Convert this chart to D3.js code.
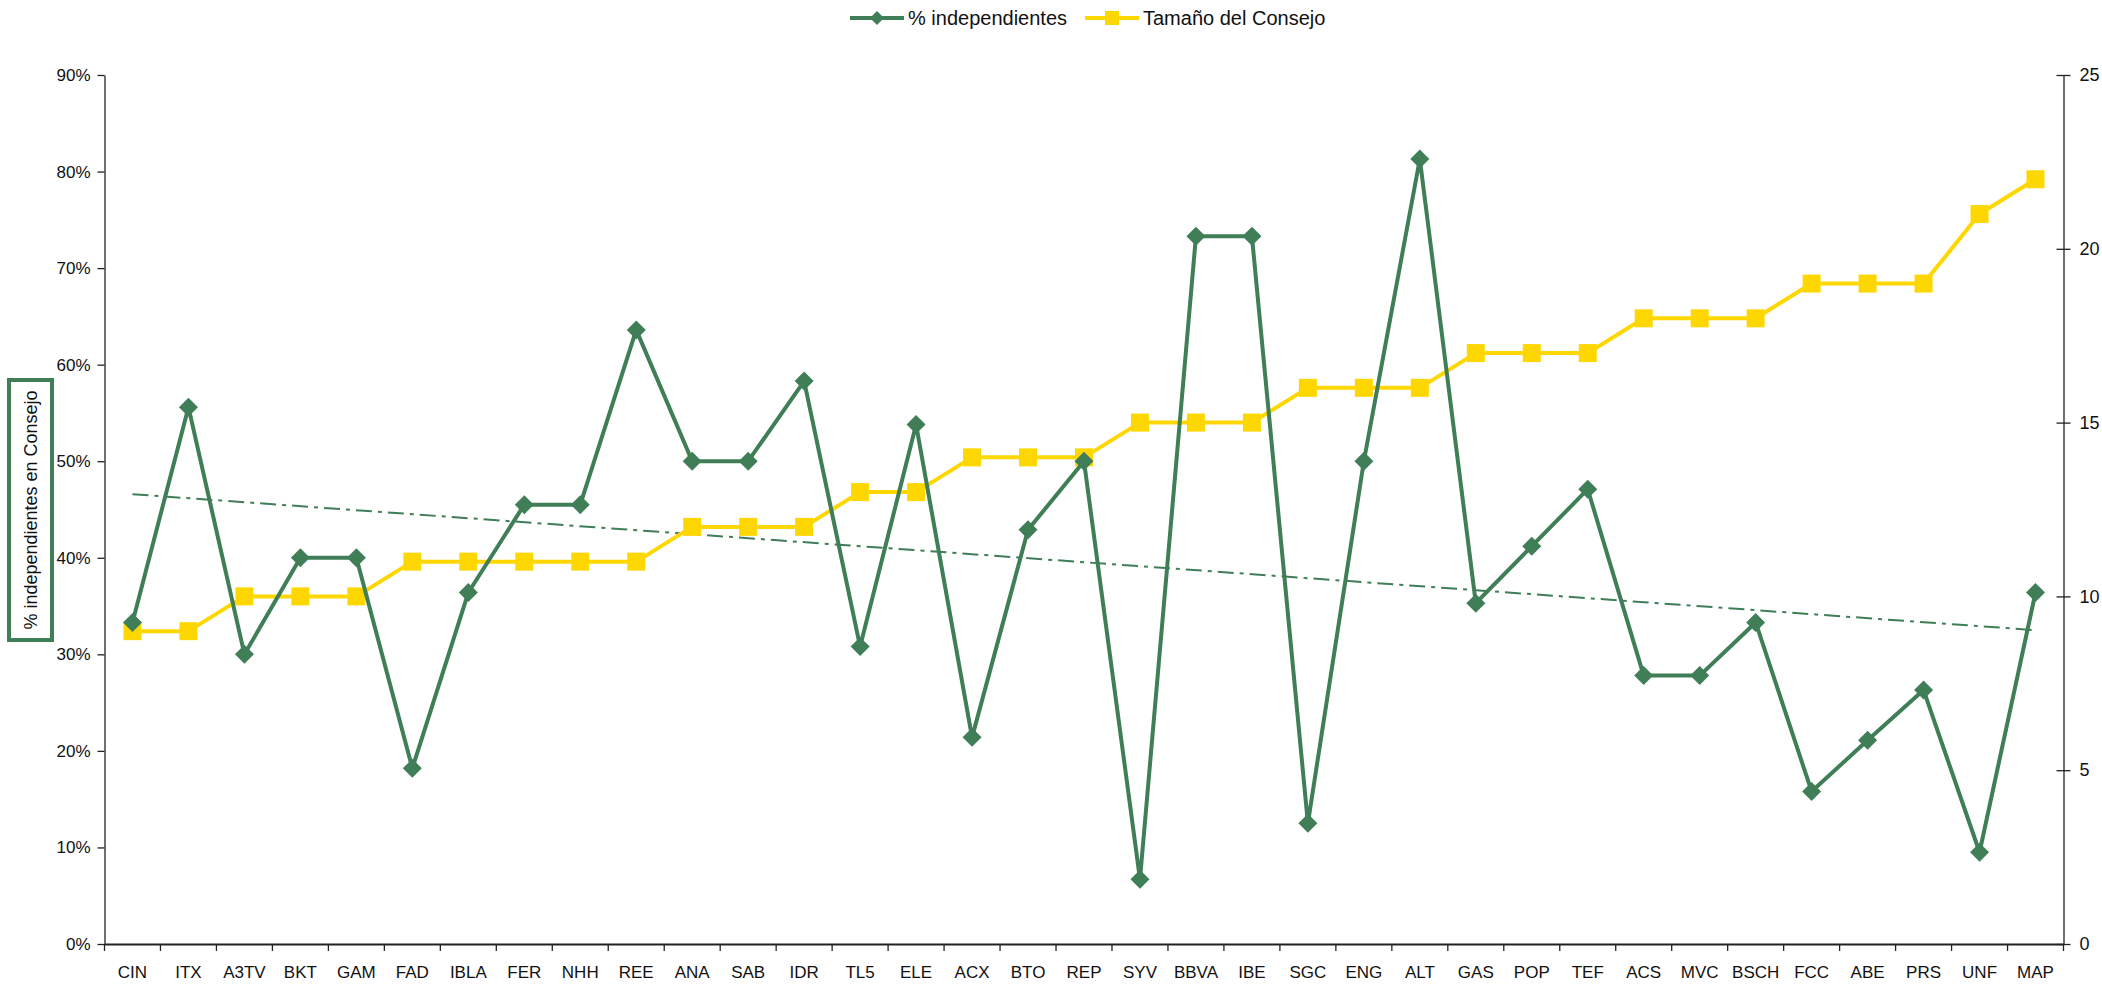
<!DOCTYPE html>
<html>
<head>
<meta charset="utf-8">
<script src="https://cdn.jsdelivr.net/npm/d3@7"></script>
<style>
  html, body { margin: 0; padding: 0; background: #fff; }
  svg { display: block; font-family: "Liberation Sans", Arial, sans-serif; }
</style>
</head>
<body>
<svg id="chart" width="2102" height="987"></svg>
<script>
const categories = ["CIN","ITX","A3TV","BKT","GAM","FAD","IBLA","FER","NHH","REE","ANA","SAB","IDR","TL5","ELE","ACX","BTO","REP","SYV","BBVA","IBE","SGC","ENG","ALT","GAS","POP","TEF","ACS","MVC","BSCH","FCC","ABE","PRS","UNF","MAP"];
const pctIndependientes = [33.3,55.6,30.0,40.0,40.0,18.2,36.4,45.5,45.5,63.6,50.0,50.0,58.3,30.8,53.8,21.4,42.9,50.0,6.7,73.3,73.3,12.5,50.0,81.3,35.3,41.2,47.1,27.8,27.8,33.3,15.8,21.1,26.3,9.5,36.4];
const tamanoConsejo = [9,9,10,10,10,11,11,11,11,11,12,12,12,13,13,14,14,14,15,15,15,16,16,16,17,17,17,18,18,18,19,19,19,21,22];
const leftTicks = [0,10,20,30,40,50,60,70,80,90];
const rightTicks = [0,5,10,15,20,25];
const seriesNames = ["% independientes","Tamaño del Consejo"];
const yTitle = "% independientes en Consejo";

const GREEN = "#3F7E57", YELLOW = "#FFD700";
const svg = d3.select("#chart");
const L = 104.5, R = 2063.5, T = 75, B = 944;

const x = d3.scaleBand().domain(categories).range([L, R]).padding(0);
const cx = c => x(c) + x.bandwidth() / 2;
const yL = d3.scaleLinear().domain([0, 90]).range([B, T]);
const yR = d3.scaleLinear().domain([0, 25]).range([B, T]);

// Left axis
const gL = svg.append("g").attr("transform", `translate(${L},0)`)
  .call(d3.axisLeft(yL).tickValues(leftTicks).tickSizeInner(7).tickSizeOuter(0).tickPadding(7).tickFormat(d => d + "%"));
gL.selectAll("text").attr("font-size", 17).attr("fill", "#111").style("font-family", "'Liberation Sans', Arial, sans-serif");
gL.selectAll("line, path").attr("stroke", "#222").attr("stroke-width", 1.3);

// Right axis
const gR = svg.append("g").attr("transform", `translate(${R},0)`)
  .call(d3.axisRight(yR).tickValues(rightTicks).tickSizeInner(7).tickSizeOuter(0).tickPadding(9));
gR.selectAll(".tick line").attr("x1", -7);
gR.selectAll("text").attr("font-size", 18).attr("fill", "#111").style("font-family", "'Liberation Sans', Arial, sans-serif");
gR.selectAll("line, path").attr("stroke", "#222").attr("stroke-width", 1.3);

// Bottom axis (labels), ticks at category boundaries
const gB = svg.append("g").attr("transform", `translate(0,${B})`)
  .call(d3.axisBottom(x).tickSize(0).tickPadding(22));
gB.selectAll("text").attr("font-size", 17).attr("fill", "#111").style("font-family", "'Liberation Sans', Arial, sans-serif");
gB.select(".domain").attr("stroke", "#222").attr("stroke-width", 1.8);
const bounds = categories.map(c => x(c)).concat([R]);
svg.append("g").selectAll("line").data(bounds).join("line")
  .attr("x1", d => d).attr("x2", d => d).attr("y1", B).attr("y2", B + 7)
  .attr("stroke", "#222").attr("stroke-width", 1.3);

// Trend line (linear regression of % independientes)
const n = pctIndependientes.length;
const mx = d3.mean(d3.range(n)), my = d3.mean(pctIndependientes);
let sxy = 0, sxx = 0;
pctIndependientes.forEach((v, i) => { sxy += (i - mx) * (v - my); sxx += (i - mx) * (i - mx); });
const slope = sxy / sxx, icpt = my - slope * mx;
svg.append("line")
  .attr("x1", cx(categories[0])).attr("y1", yL(icpt))
  .attr("x2", cx(categories[n - 1])).attr("y2", yL(icpt + slope * (n - 1)))
  .attr("stroke", GREEN).attr("stroke-width", 2).attr("stroke-dasharray", "16,6,4,6");

// Yellow series
svg.append("path").datum(tamanoConsejo)
  .attr("fill", "none").attr("stroke", YELLOW).attr("stroke-width", 4).attr("stroke-linejoin", "round")
  .attr("d", d3.line().x((d, i) => cx(categories[i])).y(d => yR(d)));
svg.append("g").selectAll("rect").data(tamanoConsejo).join("rect")
  .attr("x", (d, i) => cx(categories[i]) - 9).attr("y", d => yR(d) - 9)
  .attr("width", 18).attr("height", 18).attr("fill", YELLOW);

// Green series
svg.append("path").datum(pctIndependientes)
  .attr("fill", "none").attr("stroke", GREEN).attr("stroke-width", 4).attr("stroke-linejoin", "round")
  .attr("d", d3.line().x((d, i) => cx(categories[i])).y(d => yL(d)));
const diamond = (px, py, r) => `M${px},${py - r}L${px + r},${py}L${px},${py + r}L${px - r},${py}Z`;
svg.append("g").selectAll("path").data(pctIndependientes).join("path")
  .attr("d", (d, i) => diamond(cx(categories[i]), yL(d), 9.5)).attr("fill", GREEN);

// Y title box
svg.append("rect").attr("x", 9).attr("y", 380).attr("width", 43).attr("height", 260)
  .attr("fill", "#fff").attr("stroke", GREEN).attr("stroke-width", 4);
svg.append("text").attr("transform", "translate(31,510) rotate(-90)")
  .attr("text-anchor", "middle").attr("dominant-baseline", "central")
  .attr("font-size", 18).attr("fill", "#111").text(yTitle);

// Legend
const lg = svg.append("g");
lg.append("line").attr("x1", 850).attr("x2", 904).attr("y1", 18).attr("y2", 18).attr("stroke", GREEN).attr("stroke-width", 4);
lg.append("path").attr("d", diamond(877, 18, 7)).attr("fill", GREEN);
lg.append("text").attr("x", 908).attr("y", 18).attr("dominant-baseline", "central").attr("font-size", 20).attr("fill", "#111").text(seriesNames[0]);
lg.append("line").attr("x1", 1085).attr("x2", 1139).attr("y1", 18).attr("y2", 18).attr("stroke", YELLOW).attr("stroke-width", 4);
lg.append("rect").attr("x", 1105).attr("y", 11).attr("width", 14).attr("height", 14).attr("fill", YELLOW);
lg.append("text").attr("x", 1143).attr("y", 18).attr("dominant-baseline", "central").attr("font-size", 20).attr("fill", "#111").text(seriesNames[1]);
</script>
</body>
</html>
